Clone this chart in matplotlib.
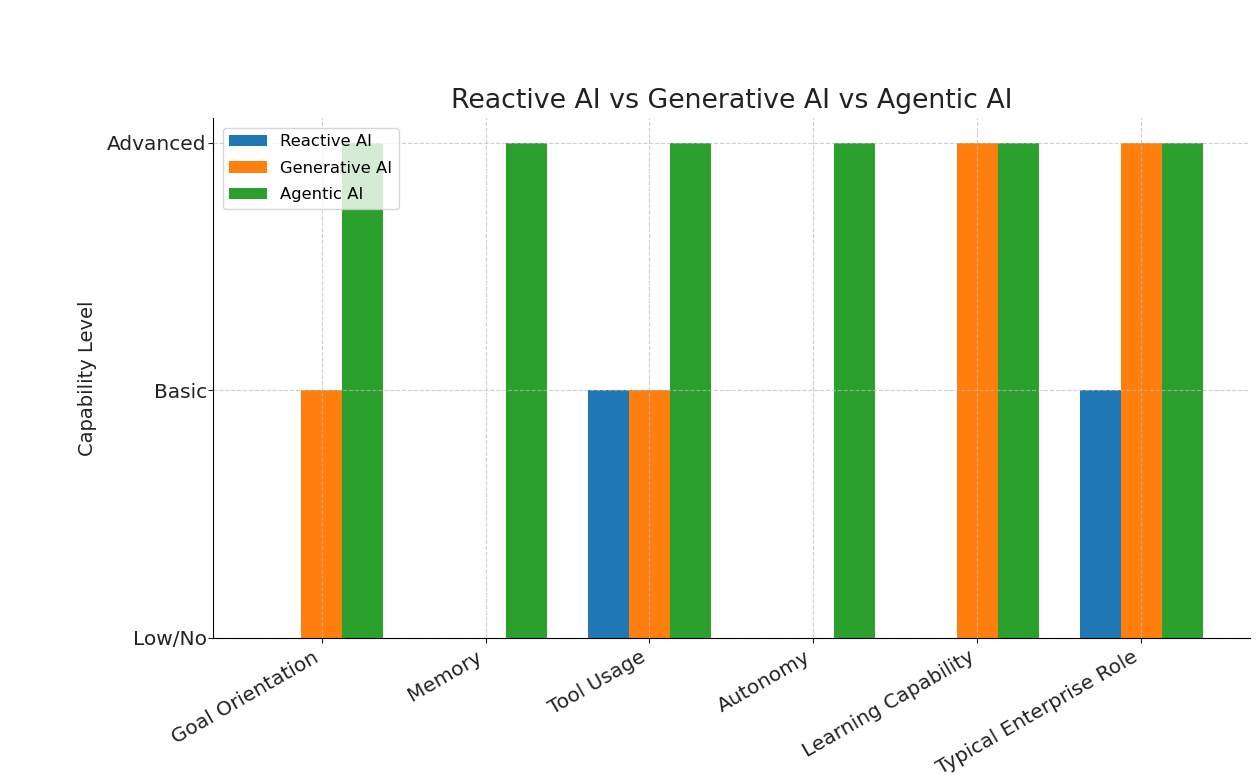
import matplotlib
matplotlib.use("Agg")
import matplotlib.pyplot as plt
import numpy as np

# capability levels (0 = Low/No, 1 = Basic, 2 = Advanced)
features = ['Goal Orientation', 'Memory', 'Tool Usage', 'Autonomy',
            'Learning Capability', 'Typical Enterprise Role']
reactive = [0, 0, 1, 0, 0, 1]
generative = [1, 0, 1, 0, 2, 2]
agentic = [2, 2, 2, 2, 2, 2]
level_labels = ['Low/No', 'Basic', 'Advanced']

x = np.arange(len(features))
width = 0.25

fig = plt.figure(figsize=(12.6, 7.76), dpi=100)
ax = fig.add_axes([0.169, 0.178, 0.823, 0.67])

ax.bar(x - width, reactive, width, label='Reactive AI', color='#1f77b4')
ax.bar(x, generative, width, label='Generative AI', color='#ff7f0e')
ax.bar(x + width, agentic, width, label='Agentic AI', color='#2ca02c')

ax.set_title('Reactive AI vs Generative AI vs Agentic AI', fontsize=19.3, color='#222222', pad=7)
ax.set_ylabel('Capability Level', fontsize=14, color='#222222', labelpad=7)
ax.set_xticks(x)
ax.set_xticklabels(features, rotation=30, ha='right', fontsize=14.5)
ax.set_yticks([0, 1, 2])
ax.set_yticklabels(level_labels, fontsize=14.5)
ax.tick_params(colors='#222222')
ax.tick_params(axis='y', pad=1)

ax.grid(True, linestyle='--', color='#bbbbbb', alpha=0.7, linewidth=0.8)
ax.set_axisbelow(False)
ax.spines['top'].set_visible(False)
ax.spines['right'].set_visible(False)

ax.legend(loc='upper left', fontsize=11.8, handlelength=2.3, labelspacing=0.7,
          borderaxespad=0.6)

plt.savefig('out.png', dpi=100)
